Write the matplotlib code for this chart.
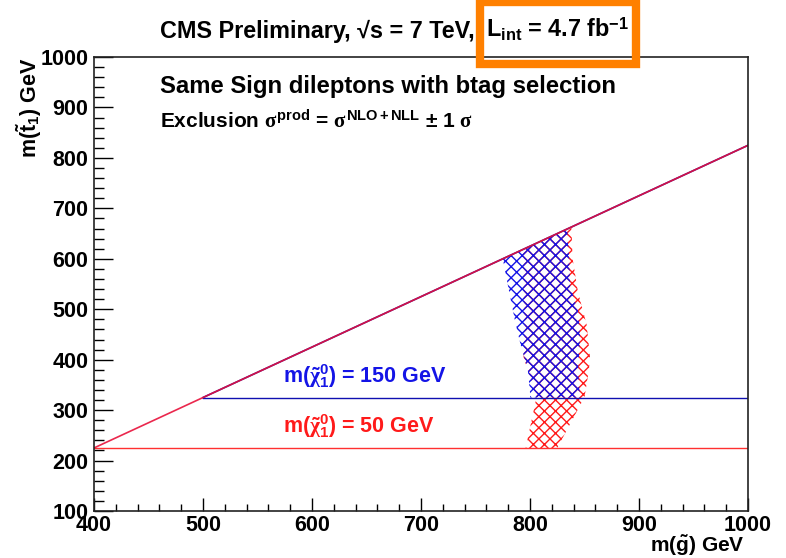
import matplotlib

matplotlib.use("Agg")
import matplotlib.pyplot as plt
from matplotlib.patches import Rectangle
from matplotlib.ticker import MultipleLocator

plt.rcParams["font.family"] = ["Liberation Sans", "DejaVu Sans"]
plt.rcParams["font.weight"] = "bold"
plt.rcParams["mathtext.fontset"] = "custom"
plt.rcParams["mathtext.rm"] = "Liberation Sans:bold"
plt.rcParams["mathtext.bf"] = "Liberation Sans:bold"
plt.rcParams["mathtext.sf"] = "Liberation Sans:bold"
plt.rcParams["mathtext.it"] = "Liberation Serif"
plt.rcParams["hatch.linewidth"] = 1.0

# exclusion contours, m(gluino) vs m(stop), for m(LSP) = 50 GeV
red_excl_x = [796, 806, 800, 794, 795, 794, 794, 793, 838, 839, 844, 852, 855, 854, 850, 825]
red_excl_y = [225, 326, 366, 405, 469, 534, 607, 618, 663, 601, 534, 469, 405, 379, 326, 225]

# exclusion contour for m(LSP) = 150 GeV
blue_excl_x = [775, 780, 786, 791, 798, 800, 800, 846, 844, 846, 844, 837, 836, 834]
blue_excl_y = [600, 544, 479, 433, 379, 334, 325, 325, 379, 445, 498, 544, 600, 659]

# kinematic limits: m(gluino) = m(stop) + m(top), m(stop) = m(LSP) + m(top)
red_limit_x = [400, 1000]
red_limit_y = [225, 225]
red_diag_y = [225, 825]
blue_limit_x = [500, 1000]
blue_limit_y = [325, 325]
blue_diag_y = [325, 825]

RED = "#ff1a1a"
BLUE = "#1414e6"


def main() -> None:
    fig = plt.figure(figsize=(7.86, 5.58), dpi=100)
    ax = fig.add_axes([0.1196, 0.0842, 0.8321, 0.8136])

    ax.fill(red_excl_x, red_excl_y, facecolor="none", edgecolor=RED,
            hatch="xxx", linewidth=0)
    ax.fill(blue_excl_x, blue_excl_y, facecolor="none", edgecolor=BLUE,
            hatch="xxx", linewidth=0)

    ax.plot(blue_limit_x, blue_limit_y, color="#1010b0", linewidth=1.0)
    ax.plot(blue_limit_x, blue_diag_y, color="#1010b0", linewidth=1.2)
    ax.plot(red_limit_x, red_limit_y, color="#ff3030", linewidth=1.0)
    ax.plot(red_limit_x, red_diag_y, color="#e8103a", linewidth=1.2, alpha=0.9)

    ax.text(573, 354, r"m($\tilde{\chi}^{0}_{1}$) = 150 GeV", color=BLUE,
            fontsize=15.5, ha="left", va="baseline")
    ax.text(573, 255, r"m($\tilde{\chi}^{0}_{1}$) = 50 GeV", color=RED,
            fontsize=15.5, ha="left", va="baseline")

    ax.set_xlim(400, 1000)
    ax.set_ylim(100, 1000)
    ax.xaxis.set_major_locator(MultipleLocator(100))
    ax.xaxis.set_minor_locator(MultipleLocator(20))
    ax.yaxis.set_major_locator(MultipleLocator(100))
    ax.yaxis.set_minor_locator(MultipleLocator(20))
    ax.tick_params(axis="x", which="major", direction="in", length=9.5,
                   width=1.0, labelsize=15.5, pad=3)
    ax.tick_params(axis="x", which="minor", direction="in", length=4.8, width=1.0)
    ax.tick_params(axis="y", which="major", direction="in", length=14,
                   width=1.0, labelsize=15.5, pad=4)
    ax.tick_params(axis="y", which="minor", direction="in", length=7, width=1.0)
    for spine in ax.spines.values():
        spine.set_linewidth(1.2)
        spine.set_color("#222222")

    fig.text(745 / 786, 1 - 552 / 558, r"m($\tilde{\mathrm{g}}$) GeV",
             fontsize=15, ha="right", va="baseline")
    fig.text(37 / 786, 1 - 58 / 558, r"m($\tilde{\mathrm{t}}_{1}$) GeV",
             fontsize=15.5, ha="right", va="baseline", rotation=90,
             rotation_mode="anchor")

    fig.text(160 / 786, 1 - 38 / 558, "CMS Preliminary, √s = 7 TeV,",
             fontsize=16.8, ha="left", va="baseline")
    fig.text(486 / 786, 1 - 38 / 558, r"L$_{\mathrm{int}}$ = 4.7 fb$^{-1}$",
             fontsize=16.8, ha="left", va="baseline")
    fig.text(160 / 786, 1 - 93 / 558, "Same Sign dileptons with btag selection",
             fontsize=17.2, ha="left", va="baseline")
    fig.text(160 / 786, 1 - 128 / 558,
             r"Exclusion $\sigma^{\mathrm{prod}}$ = $\sigma^{\mathrm{NLO+NLL}}$"
             r" $\pm$ 1 $\sigma$",
             fontsize=15, ha="left", va="baseline")

    # highlight box around the luminosity
    fig.patches.append(Rectangle((480 / 786, 1 - 64 / 558), 156 / 786, 62 / 558,
                                 transform=fig.transFigure, fill=False,
                                 edgecolor="#ff8000", linewidth=6))

    fig.savefig("out.png", dpi=100)
    plt.close(fig)


if __name__ == "__main__":
    main()
